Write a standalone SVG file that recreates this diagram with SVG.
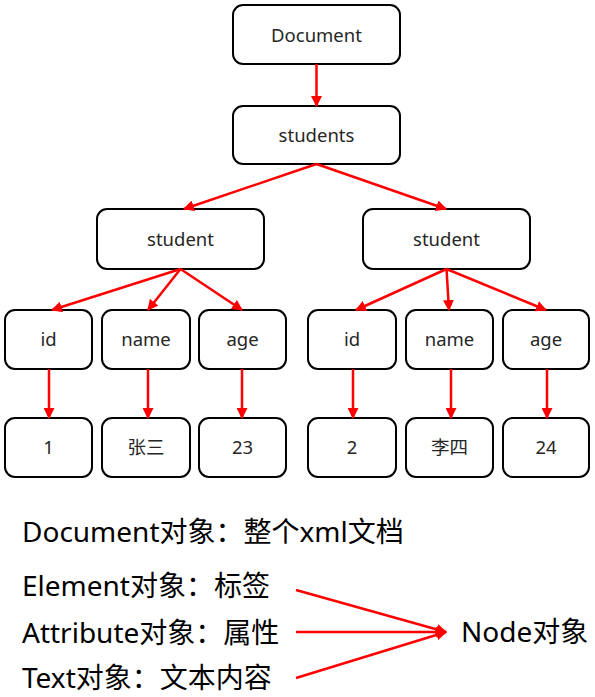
<svg xmlns="http://www.w3.org/2000/svg" width="595" height="697" viewBox="0 0 595 697">
<style>
.box{fill:#fff;stroke:#000;stroke-width:2}
.t{font-family:"Noto Sans","Noto Sans CJK SC",sans-serif;font-size:18.5px;fill:#262626;text-anchor:middle;dominant-baseline:central}
.b{font-family:"Noto Sans","Noto Sans CJK SC",sans-serif;font-size:28px;fill:#000;dominant-baseline:central}
.c line{stroke:#f00;stroke-width:2.5;marker-end:url(#ah)}
</style>
<defs>
<marker id="ah" viewBox="0 0 10 10" refX="9" refY="5" markerWidth="4.4" markerHeight="4.4" markerUnits="strokeWidth" orient="auto">
<path d="M0,0 L10,5 L0,10 z" fill="#f00"/>
</marker>
</defs>
<g id="n-document"><rect class="box" x="233" y="5" width="167" height="59" rx="10"/><text class="t" x="316.5" y="34">Document</text></g>
<g id="n-students"><rect class="box" x="233" y="106" width="167" height="58" rx="10"/><text class="t" x="316.5" y="134">students</text></g>
<g id="n-student1"><rect class="box" x="97" y="209" width="167" height="60" rx="10"/><text class="t" x="180.5" y="238">student</text></g>
<g id="n-student2"><rect class="box" x="363" y="209" width="167" height="60" rx="10"/><text class="t" x="446.5" y="238">student</text></g>
<g id="n-id1"><rect class="box" x="5" y="310" width="87" height="59" rx="10"/><text class="t" x="48.5" y="338">id</text></g>
<g id="n-name1"><rect class="box" x="102" y="310" width="88" height="59" rx="10"/><text class="t" x="146" y="338">name</text></g>
<g id="n-age1"><rect class="box" x="199" y="310" width="87" height="59" rx="10"/><text class="t" x="242.5" y="338">age</text></g>
<g id="n-id2"><rect class="box" x="308" y="310" width="88" height="59" rx="10"/><text class="t" x="352" y="338">id</text></g>
<g id="n-name2"><rect class="box" x="406" y="310" width="87" height="59" rx="10"/><text class="t" x="449.5" y="338">name</text></g>
<g id="n-age2"><rect class="box" x="503" y="310" width="86" height="59" rx="10"/><text class="t" x="546" y="338">age</text></g>
<g id="n-v1"><rect class="box" x="5" y="418" width="87" height="59" rx="10"/><text class="t" x="48.5" y="446">1</text></g>
<g id="n-v2"><rect class="box" x="102" y="418" width="88" height="59" rx="10"/><text class="t" x="146" y="446">张三</text></g>
<g id="n-v3"><rect class="box" x="199" y="418" width="87" height="59" rx="10"/><text class="t" x="242.5" y="446">23</text></g>
<g id="n-v4"><rect class="box" x="308" y="418" width="88" height="59" rx="10"/><text class="t" x="352" y="446">2</text></g>
<g id="n-v5"><rect class="box" x="406" y="418" width="87" height="59" rx="10"/><text class="t" x="449.5" y="446">李四</text></g>
<g id="n-v6"><rect class="box" x="503" y="418" width="86" height="59" rx="10"/><text class="t" x="546" y="446">24</text></g>
<g id="legend">
<text class="b" x="22" y="531">Document对象：整个xml文档</text>
<text class="b" x="22" y="585">Element对象：标签</text>
<text class="b" x="22" y="632">Attribute对象：属性</text>
<text class="b" x="22" y="677">Text对象：文本内容</text>
<text class="b" x="461" y="631">Node对象</text>
</g>
<g class="c" id="connectors">
<line x1="316.5" y1="64" x2="316.5" y2="106"/>
<line x1="316.5" y1="164" x2="184" y2="209"/>
<line x1="316.5" y1="164" x2="446" y2="209"/>
<line x1="180.5" y1="269" x2="52" y2="310"/>
<line x1="180.5" y1="269" x2="148" y2="310"/>
<line x1="180.5" y1="269" x2="242" y2="310"/>
<line x1="446.5" y1="269" x2="356" y2="310"/>
<line x1="446.5" y1="269" x2="449" y2="310"/>
<line x1="446.5" y1="269" x2="546" y2="310"/>
<line x1="49" y1="369" x2="49" y2="418"/>
<line x1="148" y1="369" x2="148" y2="418"/>
<line x1="242" y1="369" x2="242" y2="418"/>
<line x1="353" y1="369" x2="353" y2="418"/>
<line x1="451" y1="369" x2="451" y2="418"/>
<line x1="547" y1="369" x2="547" y2="418"/>
<line x1="296" y1="590" x2="446" y2="632"/>
<line x1="296" y1="632" x2="446" y2="632"/>
<line x1="296" y1="678" x2="446" y2="632"/>
</g>
</svg>
